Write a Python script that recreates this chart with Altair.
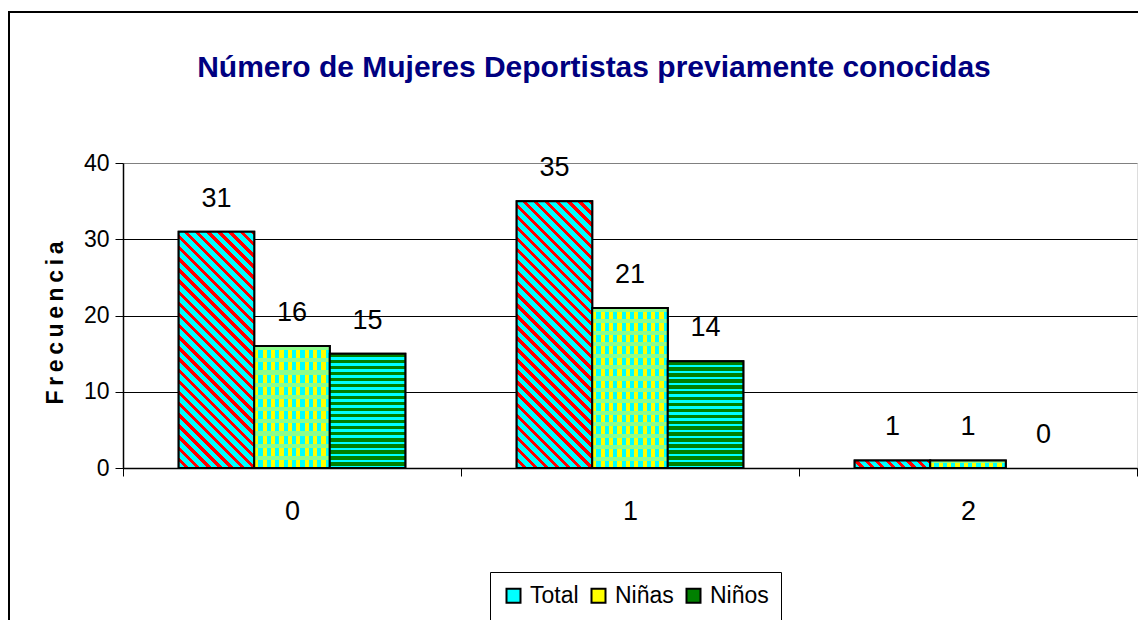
import altair as alt
import pandas as pd

# ---------------- data ----------------
categories = ["0", "1", "2"]
series = ["Total", "Niñas", "Niños"]
total = [31, 35, 1]
ninas = [16, 21, 1]
ninos = [15, 14, 0]
y_ticks = [0, 10, 20, 30, 40]

title_text = "Número de Mujeres Deportistas previamente conocidas"
y_title = "\u2009".join("Frecuencia")

rows = []
for i, c in enumerate(categories):
    for s, vals in zip(series, [total, ninas, ninos]):
        rows.append({"cat": c, "serie": s, "valor": vals[i]})
df = pd.DataFrame(rows)

# ---------------- layout / style ----------------
FONT = "Liberation Sans, Arial"
W, H = 1014, 305
YMAX = 40
OFF_PAD = 0.737  # outer padding of the bar group inside each category
step = W / len(categories)
bar_w = step / (len(series) + 2 * OFF_PAD)

CYAN = "#00FFFF"
RED = "#FF0000"
YELLOW = "#FFFF00"
GREEN = "#008000"
LIGHTGREEN = "#8CFF8C"


def stripe_gradient(pattern, n_periods, x1, y1, x2, y2):
    stops = []
    n = max(1, n_periods)
    for k in range(n):
        acc = k / n
        for color, frac in pattern:
            end = min(1.0, acc + frac / n)
            stops.append({"offset": round(min(1.0, acc), 5), "color": color})
            stops.append({"offset": round(end, 5), "color": color})
            acc = end
    return {"gradient": "linear", "x1": x1, "y1": y1, "x2": x2, "y2": y2, "stops": stops}


base = alt.Chart(df).encode(
    x=alt.X(
        "cat:N",
        scale=alt.Scale(domain=categories, paddingInner=0, paddingOuter=0),
        axis=alt.Axis(
            title=None, labelAngle=0, tickBand="extent", tickSize=8, tickColor="black",
            domainColor="black", domainWidth=1.5, labelFontSize=27, labelFont=FONT,
            labelColor="black", labelPadding=22, grid=False,
        ),
    ),
    xOffset=alt.XOffset(
        "serie:N", scale=alt.Scale(domain=series, paddingInner=0, paddingOuter=OFF_PAD)
    ),
    y=alt.Y(
        "valor:Q",
        scale=alt.Scale(domain=[0, YMAX]),
        axis=alt.Axis(
            values=y_ticks, grid=True,
            gridColor=alt.condition("datum.value == 40", alt.value("#808080"), alt.value("black")),
            gridWidth=1, domainColor="black", domainWidth=1.5, tickColor="black", tickSize=8,
            labelFontSize=23, labelFont=FONT, labelColor="black", labelPadding=6,
            title=y_title, titleFont=FONT, titleFontWeight="bold", titleFontSize=23,
            titleColor="black", titleX=-68, titleY=H / 2 + 7, titleAngle=270,
            titleAlign="center", titleBaseline="middle",
        ),
    ),
)

border = alt.Chart(alt.Data(values=[{}])).mark_rect(
    fill="transparent", stroke="black", strokeWidth=2
).encode(
    x=alt.value(-114), x2=alt.value(W + 40), y=alt.value(-151), y2=alt.value(H + 220)
)

title = alt.Chart(alt.Data(values=[{"t": title_text}])).mark_text(
    font=FONT, fontSize=30, fontWeight="bold", color="#000080",
    align="center", baseline="alphabetic",
).encode(text="t:N", x=alt.value(471), y=alt.value(-86))

legend_bars = base.transform_filter("datum.valor > 0").mark_bar(
    stroke="black", strokeWidth=2
).encode(
    color=alt.Color(
        "serie:N",
        scale=alt.Scale(domain=series, range=[CYAN, YELLOW, GREEN]),
        legend=alt.Legend(
            orient="none", legendX=367, legendY=409, direction="horizontal", title=None,
            strokeColor="black", fillColor="white", padding=12, symbolType="square",
            symbolSize=196, symbolStrokeColor="black", symbolStrokeWidth=2,
            labelFontSize=23, labelFont=FONT, labelColor="black", labelOffset=5,
            columnPadding=8, symbolOpacity=1,
        ),
    )
)

layers = [border, title, legend_bars]
for i, c in enumerate(categories):
    for s, vals in zip(series, [total, ninas, ninos]):
        v = vals[i]
        if v <= 0:
            continue
        h = v / YMAX * H
        w = bar_w
        flt = f"datum.cat == '{c}' && datum.serie == '{s}'"
        if s == "Total":
            k = (w + h) / (w * w + h * h)
            grad = stripe_gradient([(CYAN, 0.6), (RED, 0.4)], round((w + h) / 11),
                                   0, 1, round(w * k, 5), round(1 - h * k, 5))
            layers.append(base.transform_filter(flt).mark_bar(fill=grad, stroke="black", strokeWidth=2))
        elif s == "Niñas":
            grad_v = stripe_gradient([(YELLOW, 0.5), (CYAN, 0.5)], round(w / 8), 0, 0, 1, 0)
            layers.append(base.transform_filter(flt).mark_bar(fill=grad_v, strokeWidth=0))
            grad_h = stripe_gradient([(LIGHTGREEN, 0.35), ("rgba(0,0,0,0)", 0.65)],
                                     max(1, round(h / 11.7)), 0, 0, 0, 1)
            layers.append(base.transform_filter(flt).mark_bar(fill=grad_h, stroke="black", strokeWidth=2))
        else:
            grad = stripe_gradient([(GREEN, 0.6), (CYAN, 0.4)], max(1, round(h / 6)), 0, 0, 0, 1)
            layers.append(base.transform_filter(flt).mark_bar(fill=grad, stroke="black", strokeWidth=2))

labels = base.mark_text(
    dy=-25, baseline="alphabetic", fontSize=27, font=FONT, color="black"
).encode(text="valor:Q")
layers.append(labels)

chart = alt.layer(*layers).properties(
    width=W,
    height=H,
    padding={"left": 115, "top": 155, "right": 1, "bottom": 152},
    autosize=alt.AutoSizeParams(type="none"),
).configure_view(
    fill="#FF99CC", stroke="#808080", strokeWidth=2
).configure(background="white")

chart.save("out.html", embed_options={"renderer": "svg", "actions": False})
